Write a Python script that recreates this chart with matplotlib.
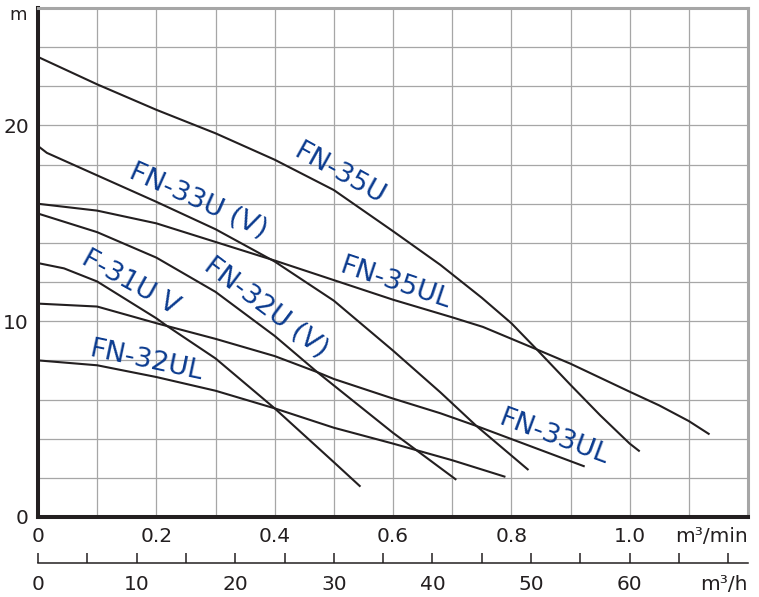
"""Pump performance curves (head vs. capacity) for the FN series."""
import matplotlib

matplotlib.use("Agg")
import matplotlib.pyplot as plt
import numpy as np

LINE = "#231f20"
GRID = "#a6a6a6"
BLUE = "#0b3b8f"

# capacity in m3/min, head in m
fn35u_q = [0, 0.1, 0.2, 0.3, 0.4, 0.5, 0.6, 0.68, 0.7, 0.75, 0.8, 0.843, 0.9, 0.95, 1.0, 1.017]
fn35u_h = [23.5, 22.1, 20.8, 19.6, 18.25, 16.7, 14.6, 12.88, 12.4, 11.2, 9.9, 8.56, 6.75, 5.2, 3.75, 3.35]

fn33u_q = [0, 0.015, 0.1, 0.2, 0.3, 0.4, 0.46, 0.5, 0.6, 0.68, 0.741, 0.829]
fn33u_h = [18.95, 18.6, 17.45, 16.1, 14.7, 13.05, 11.85, 11.05, 8.5, 6.37, 4.65, 2.4]

fn35ul_q = [0, 0.1, 0.2, 0.3, 0.4, 0.5, 0.6, 0.7, 0.752, 0.843, 0.9, 1.0, 1.05, 1.1, 1.135]
fn35ul_h = [16.0, 15.65, 15.0, 14.05, 13.1, 12.1, 11.1, 10.2, 9.71, 8.56, 7.83, 6.4, 5.7, 4.9, 4.22]

fn32u_q = [0, 0.1, 0.2, 0.3, 0.4, 0.472, 0.5, 0.6, 0.707]
fn32u_h = [15.5, 14.55, 13.25, 11.5, 9.25, 7.4, 6.72, 4.3, 1.9]

f31u_q = [0, 0.044, 0.1, 0.2, 0.217, 0.3, 0.4, 0.5, 0.545]
f31u_h = [12.97, 12.7, 12.03, 10.15, 9.78, 8.1, 5.55, 2.8, 1.55]

fn33ul_q = [0, 0.1, 0.2, 0.3, 0.4, 0.472, 0.5, 0.6, 0.68, 0.741, 0.924]
fn33ul_h = [10.9, 10.75, 9.9, 9.1, 8.22, 7.4, 7.05, 6.05, 5.3, 4.65, 2.58]

fn32ul_q = [0, 0.1, 0.2, 0.3, 0.4, 0.5, 0.6, 0.7, 0.79]
fn32ul_h = [8.0, 7.75, 7.15, 6.45, 5.55, 4.56, 3.75, 2.9, 2.05]

curves = [
    (fn35u_q, fn35u_h),
    (fn33u_q, fn33u_h),
    (fn35ul_q, fn35ul_h),
    (fn32u_q, fn32u_h),
    (f31u_q, f31u_h),
    (fn33ul_q, fn33ul_h),
    (fn32ul_q, fn32ul_h),
]

# curve labels: text, x, y, rotation
label_names = ["FN-35U", "FN-33U (V)", "FN-35UL", "FN-32U (V)", "F-31U V", "FN-32UL", "FN-33UL"]
label_x = [0.51, 0.27, 0.603, 0.385, 0.156, 0.183, 0.872]
label_y = [17.5, 16.13, 11.9, 10.67, 11.95, 7.95, 4.04]
label_rot = [-29, -24, -18.5, -37, -29, -12, -20.5]

x_ticks = np.round(np.arange(0, 1.2, 0.1), 1)
y_ticks = np.arange(0, 26, 2)
xh_ticks = np.arange(0, 75, 5)

plt.rcParams["font.family"] = ["DejaVu Sans"]

fig = plt.figure(figsize=(7.59, 5.97), dpi=100)
ax = fig.add_axes([38 / 759, 80 / 597, 710 / 759, 509 / 597])

for q, h in curves:
    ax.plot(q, h, color=LINE, lw=1.5, zorder=3, solid_capstyle="butt")

for name, x, y, r in zip(label_names, label_x, label_y, label_rot):
    ax.text(x, y, name, rotation=r, ha="center", va="center",
            color=BLUE, fontsize=19.5, zorder=4)

ax.set_xlim(0, 1.2)
ax.set_ylim(0, 26)
ax.set_xticks(x_ticks)
ax.set_xticklabels(["0" if v == 0 else (f"{v:.1f}" if round(v * 10) % 2 == 0 else "")
                    for v in x_ticks])
ax.set_yticks(y_ticks)
ax.set_yticklabels([str(v) if v % 10 == 0 else "" for v in y_ticks])
ax.tick_params(axis="x", length=0, pad=7.5, labelsize=14.5, labelcolor=LINE)
ax.tick_params(axis="y", length=0, pad=6.5, labelsize=14.5, labelcolor=LINE)
ax.grid(True, color=GRID, lw=0.9)
ax.set_axisbelow(True)

for side in ("left", "bottom"):
    ax.spines[side].set_color(LINE)
    ax.spines[side].set_linewidth(2.9)
for side in ("top", "right"):
    ax.spines[side].set_color(GRID)
    ax.spines[side].set_linewidth(2.2)

ax.annotate("m³/min", xy=(1.2, 0), xycoords=("data", "axes fraction"),
            xytext=(0, -7.5), textcoords="offset points",
            ha="right", va="top", fontsize=14.5, color=LINE)
ax.text(-0.028, 0.986, "m", transform=ax.transAxes, ha="center", va="center",
        fontsize=13, color=LINE)

# secondary scale in m3/h
ax2 = fig.add_axes([38 / 759, (597 - 563) / 597, 710 / 759, 1e-6])
ax2.patch.set_visible(False)
ax2.set_xlim(0, 72)
ax2.set_yticks([])
for side in ("left", "right", "top"):
    ax2.spines[side].set_visible(False)
ax2.spines["bottom"].set_color(LINE)
ax2.spines["bottom"].set_linewidth(1.1)
ax2.set_xticks(xh_ticks)
ax2.set_xticklabels([str(v) if v % 10 == 0 and v < 70 else "" for v in xh_ticks])
ax2.tick_params(axis="x", direction="in", length=7.2, width=1.1, color=LINE,
                pad=8.5, labelsize=14.5, labelcolor=LINE)
ax2.annotate("m³/h", xy=(72, 0), xycoords=("data", "axes fraction"),
             xytext=(0, -8.5), textcoords="offset points",
             ha="right", va="top", fontsize=14.5, color=LINE)

fig.savefig("out.png", dpi=100)
